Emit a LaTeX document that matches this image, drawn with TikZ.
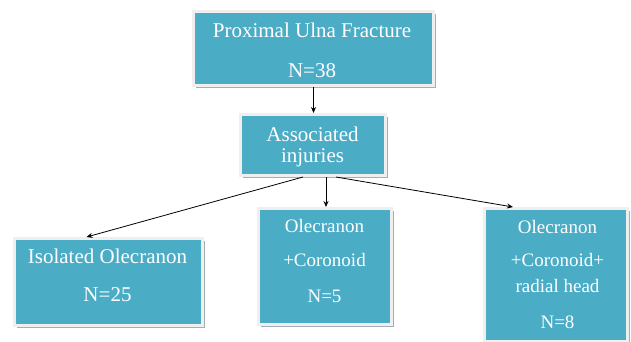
\documentclass[tikz,border=0pt]{standalone}
\usepackage{fontspec}
\setmainfont{Liberation Serif}
\usetikzlibrary{shadows,arrows.meta}
\definecolor{boxteal}{HTML}{4BACC6}
\definecolor{boxrim}{HTML}{EFEFEF}
\definecolor{boxshade}{HTML}{A4AEB6}
\begin{document}
\begin{tikzpicture}[x=1pt,y=-1pt,
  flowbox/.style={rectangle, draw=boxrim, line width=3pt, fill=boxteal, inner sep=0pt,
    drop shadow={shadow xshift=2.5pt, shadow yshift=-2.5pt, fill=boxshade, opacity=1}},
  lbl/.style={text=white, anchor=base, inner sep=0pt, font=\fontsize{21}{25}\selectfont},
  lbs/.style={text=white, anchor=base, inner sep=0pt, font=\fontsize{19}{23}\selectfont},
  arr/.style={-{Stealth[length=6pt,width=5pt]}, line width=0.8pt, black}]
\useasboundingbox (0,0) rectangle (631,341);
\node[flowbox, minimum width=240pt, minimum height=74pt] (b1) at (313.5,48.5) {};
\node[flowbox, minimum width=145pt, minimum height=61pt] (b2) at (313,145) {};
\node[flowbox, minimum width=188pt, minimum height=87pt] (b3) at (108.5,282) {};
\node[flowbox, minimum width=133pt, minimum height=116pt] (b4) at (325,266.5) {};
\node[flowbox, minimum width=143pt, minimum height=133pt] (b5) at (556,275) {};
% texts
\node[lbl] (t1a) at (312,37) {Proximal Ulna Fracture};
\node[lbl] (t1b) at (312,77) {N=38};
\node[lbl] (t2a) at (312.5,141) {Associated};
\node[lbl] (t2b) at (312.5,162) {injuries};
\node[lbl] (t3a) at (107.5,263) {Isolated Olecranon};
\node[lbl] (t3b) at (107.5,301) {N=25};
\node[lbs] (t4a) at (324.5,232) {Olecranon};
\node[lbs] (t4b) at (324.5,266) {+Coronoid};
\node[lbs] (t4c) at (324.5,302) {N=5};
\node[lbs] (t5a) at (557.5,233) {Olecranon};
\node[lbs] (t5b) at (557.5,266) {+Coronoid+};
\node[lbs] (t5c) at (557.5,292) {radial head};
\node[lbs] (t5d) at (557.5,328) {N=8};
% connectors
\draw[arr] (b1.south) -- (b1.south |- b2.north);
\draw[arr] ([xshift=-10pt]b2.south) -- ([xshift=-22pt]b3.north);
\draw[arr] ([xshift=13pt]b2.south) -- ([xshift=13pt]b2.south |- b4.north);
\draw[arr] ([xshift=23pt]b2.south) -- ([xshift=-43pt]b5.north);
\end{tikzpicture}
\end{document}
